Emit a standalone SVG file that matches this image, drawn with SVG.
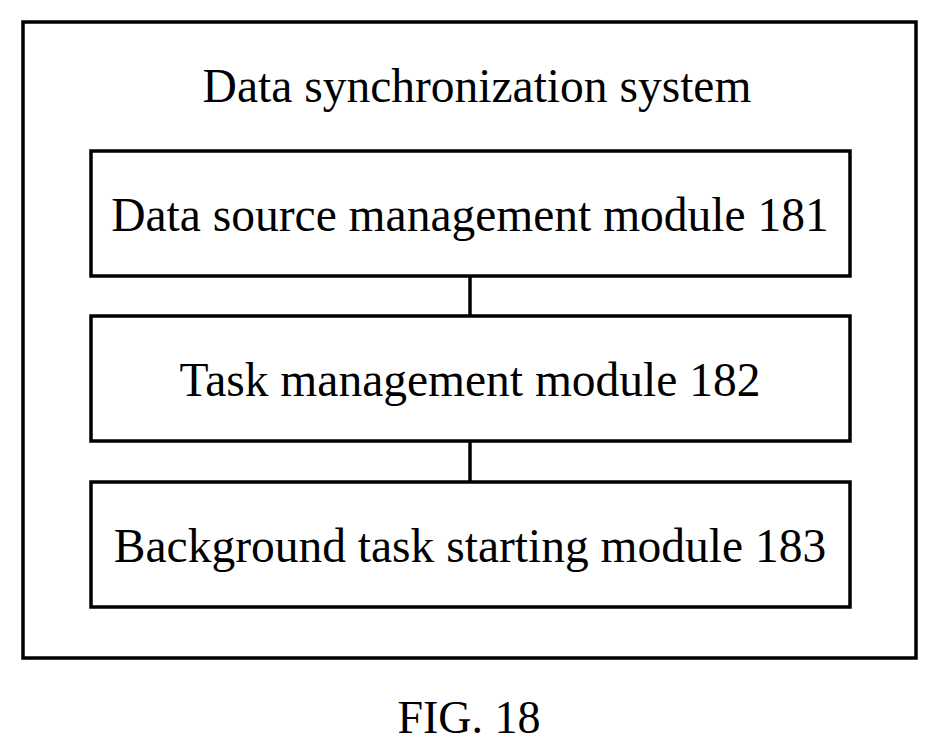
<svg xmlns="http://www.w3.org/2000/svg" width="939" height="755" viewBox="0 0 939 755">
<style>
.b{fill:#fff;stroke:#000;stroke-width:3.5}
.t{font-family:"Liberation Serif",serif;font-size:47.5px;text-anchor:middle;fill:#000}
.c{stroke:#000;stroke-width:3.5}
</style>
<rect width="939" height="755" fill="#fff"/>
<g id="system"><rect class="b" x="23" y="22" width="893" height="636"/>
<text class="t" x="477" y="102">Data synchronization system</text></g>
<g id="connectors"><line class="c" x1="470" y1="276" x2="470" y2="316"/><line class="c" x1="470" y1="441" x2="470" y2="482"/></g>
<g id="m181"><rect class="b" x="91" y="151" width="759" height="125"/><text class="t" x="470" y="231">Data source management module 181</text></g>
<g id="m182"><rect class="b" x="91" y="316" width="759" height="125"/><text class="t" x="470" y="396">Task management module 182</text></g>
<g id="m183"><rect class="b" x="91" y="482" width="759" height="125"/><text class="t" x="470" y="562">Background task starting module 183</text></g>
<text class="t" x="469" y="733" style="font-size:46px">FIG. 18</text>
</svg>
